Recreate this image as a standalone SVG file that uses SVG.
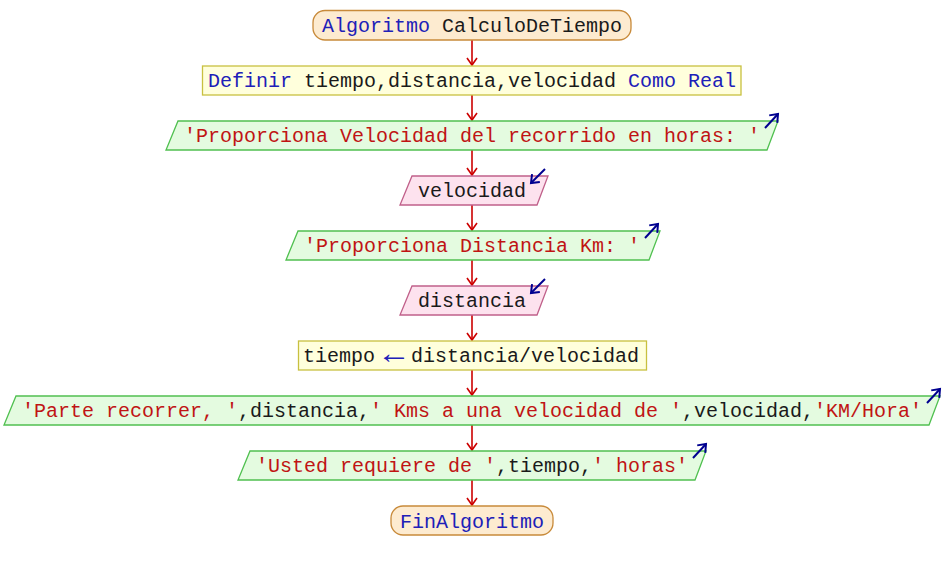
<svg xmlns="http://www.w3.org/2000/svg" width="944" height="570" viewBox="0 0 944 570">
<defs>
<marker id="ah" markerWidth="12" markerHeight="14" refX="8" refY="7" orient="auto" markerUnits="userSpaceOnUse" viewBox="0 0 12 14">
<path d="M1,2 L8,7 L1,12" fill="none" stroke="#cc0000" stroke-width="1.6"/>
</marker>
<marker id="bh" markerWidth="12" markerHeight="14" refX="9" refY="7" orient="auto" markerUnits="userSpaceOnUse" viewBox="0 0 12 14">
<path d="M2,1.5 L9,7 L2,12.5" fill="none" stroke="#000090" stroke-width="2"/>
</marker>
<style>
text{font-family:"Liberation Mono","DejaVu Sans Mono",monospace;font-size:20px;text-anchor:middle}
.term{fill:#fdebd0;stroke:#c88a3a;stroke-width:1.3}
.proc{fill:#ffffdc;stroke:#c8c040;stroke-width:1.3}
.out{fill:#e4fbe0;stroke:#50c050;stroke-width:1.3}
.in{fill:#fde2ee;stroke:#c0608a;stroke-width:1.3}
.kw{fill:#2020b8}
.str{fill:#c01414}
.var{fill:#1a1a1a}
.conn{stroke:#cc0000;stroke-width:1.6;fill:none;marker-end:url(#ah)}
.io{stroke:#000090;stroke-width:2;fill:none;marker-end:url(#bh)}
</style>
</defs>
<g id="connectors">
<line class="conn" x1="472" y1="40" x2="472" y2="65"/>
<line class="conn" x1="472" y1="95" x2="472" y2="120"/>
<line class="conn" x1="472" y1="150" x2="472" y2="175"/>
<line class="conn" x1="472" y1="205" x2="472" y2="230"/>
<line class="conn" x1="472" y1="260" x2="472" y2="285"/>
<line class="conn" x1="472" y1="315" x2="472" y2="340"/>
<line class="conn" x1="472" y1="370" x2="472" y2="395"/>
<line class="conn" x1="472" y1="425" x2="472" y2="450"/>
<line class="conn" x1="472" y1="480" x2="472" y2="505"/>
</g>
<g id="start">
<rect class="term" x="313" y="10.5" width="318" height="29.5" rx="12" ry="12"/>
<text x="472" y="32"><tspan class="kw">Algoritmo</tspan><tspan class="var"> CalculoDeTiempo</tspan></text>
</g>
<g id="definir">
<rect class="proc" x="202.5" y="66" width="538.5" height="29"/>
<text x="472" y="87"><tspan class="kw">Definir</tspan><tspan class="var"> tiempo,distancia,velocidad </tspan><tspan class="kw">Como Real</tspan></text>
</g>
<g id="out1">
<polygon class="out" points="178,121 778,121 767,150 166,150"/>
<text x="472" y="142" class="str">'Proporciona Velocidad del recorrido en horas: '</text>
<line class="io" x1="765" y1="128" x2="778" y2="114"/>
</g>
<g id="in1">
<polygon class="in" points="412,176 548,176 537,205 400,205"/>
<text x="472" y="197" class="var">velocidad</text>
<line class="io" x1="545" y1="169" x2="531" y2="183"/>
</g>
<g id="out2">
<polygon class="out" points="298,231 660,231 649,260 286,260"/>
<text x="472" y="252" class="str">'Proporciona Distancia Km: '</text>
<line class="io" x1="645" y1="238" x2="658" y2="224"/>
</g>
<g id="in2">
<polygon class="in" points="412,286 548,286 537,315 400,315"/>
<text x="472" y="307" class="var">distancia</text>
<line class="io" x1="545" y1="279" x2="531" y2="293"/>
</g>
<g id="asig">
<rect class="proc" x="298.5" y="341" width="348" height="29"/>
<text x="303" y="362" class="var" style="text-anchor:start">tiempo</text>
<text transform="translate(394,363) scale(1.7,1.5)" x="0" y="0" class="kw">←</text>
<text x="411" y="362" class="var" style="text-anchor:start">distancia/velocidad</text>
</g>
<g id="out3">
<polygon class="out" points="16,396 940,396 929,425 4,425"/>
<text x="472" y="417"><tspan class="str">'Parte recorrer, '</tspan><tspan class="var">,distancia,</tspan><tspan class="str">' Kms a una velocidad de '</tspan><tspan class="var">,velocidad,</tspan><tspan class="str">'KM/Hora'</tspan></text>
<line class="io" x1="927" y1="403" x2="940" y2="389"/>
</g>
<g id="out4">
<polygon class="out" points="250,451 706,451 695,480 238,480"/>
<text x="472" y="472"><tspan class="str">'Usted requiere de '</tspan><tspan class="var">,tiempo,</tspan><tspan class="str">' horas'</tspan></text>
<line class="io" x1="693" y1="458" x2="706" y2="444"/>
</g>
<g id="end">
<rect class="term" x="391" y="506" width="162" height="29" rx="12" ry="12"/>
<text x="472" y="528" class="kw">FinAlgoritmo</text>
</g>
</svg>
